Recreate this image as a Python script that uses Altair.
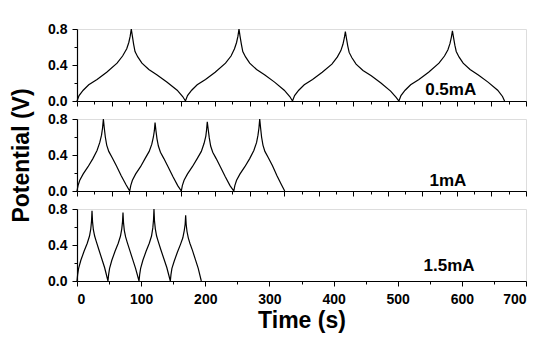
import altair as alt
import pandas as pd

# ---- data ----
# 0.5 mA (top panel, its own time axis 0-650)
t_05 = [0, 3, 9, 17, 29, 43, 58, 66, 72, 75, 77, 78.6, 80, 82, 84, 88, 94, 104, 116, 130, 145, 153, 157,
        160, 166, 174, 186, 200, 215, 223, 228, 231, 233, 234.5, 236, 238, 240, 244, 250, 260, 272, 286, 300, 308, 312,
        315, 321, 329, 341, 355, 369, 377, 382, 385, 387, 388.5, 390, 392, 394, 398, 404, 414, 426, 440, 454, 462, 466,
        469, 475, 483, 495, 509, 524, 532, 537, 540, 542, 543.5, 545, 547, 549, 553, 559, 569, 581, 595, 609, 616, 619]
v_05 = [0, .06, .12, .18, .24, .32, .42, .50, .58, .65, .72, .80, .73, .63, .55, .49, .42, .35, .29, .21, .12, .05, 0,
        .06, .12, .18, .24, .32, .42, .50, .58, .65, .72, .80, .72, .63, .55, .49, .42, .35, .29, .21, .12, .05, 0,
        .06, .12, .18, .24, .32, .41, .49, .56, .63, .70, .77, .70, .61, .54, .48, .41, .34, .28, .20, .11, .04, 0,
        .06, .12, .18, .24, .32, .42, .50, .57, .64, .71, .78, .71, .62, .55, .49, .42, .35, .29, .21, .12, .05, 0]

# 1 mA (middle panel, time axis 0-650)
t_10 = [0, 1.5, 4, 9, 16, 23, 29, 33, 35.5, 37, 38.2, 39.5, 41, 43, 46, 51, 57, 64, 71, 76.3,
        77.8, 80.2, 85, 92, 98.5, 104.5, 108.3, 110.6, 112, 113, 114.3, 115.8, 117.8, 120.8, 125.8, 131.8, 138.8, 145.8, 151,
        152.5, 155, 160, 167, 174, 180, 184, 186.5, 187.6, 188.6, 190, 191.5, 193.5, 196.5, 201.5, 207.5, 214.5, 221.5, 227,
        228.5, 231, 236, 243, 250, 256, 260, 262, 263.4, 264.5, 265.8, 267.2, 269.2, 272, 277, 283, 289.5, 296, 300.7]
v_10 = [0, .06, .12, .19, .27, .36, .45, .54, .62, .70, .80, .70, .60, .51, .44, .37, .28, .17, .07, 0,
        .06, .12, .19, .27, .36, .44, .52, .60, .67, .76, .67, .58, .50, .43, .36, .27, .16, .06, 0,
        .06, .12, .19, .27, .36, .44, .53, .61, .68, .77, .68, .59, .50, .43, .36, .27, .16, .06, 0,
        .06, .12, .19, .27, .36, .45, .54, .62, .70, .80, .70, .60, .51, .44, .37, .28, .17, .07, 0]

# 1.5 mA (bottom panel, time axis 0-700)
t_15 = [0, 1, 2.5, 6, 11, 16, 19.5, 21.5, 22.7, 23.4, 24.2, 25.5, 27.5, 30, 34, 38.5, 43, 48.3,
        49.3, 50.8, 54.3, 59.3, 64.3, 67.8, 69.8, 71, 71.7, 72.5, 73.8, 75.8, 78.3, 82.3, 86.8, 91.3, 96.7,
        97.7, 99.2, 102.7, 107.7, 112.7, 116.2, 118.2, 119.3, 120, 120.8, 122.1, 124.1, 126.6, 130.6, 135.3, 140, 145.5,
        146.5, 148, 151.5, 156.5, 161.5, 165, 167.2, 168.6, 169.4, 170.2, 171.5, 173.5, 176, 180, 184.5, 189, 193.8]
v_15 = [0, .07, .14, .23, .33, .42, .50, .58, .67, .78, .66, .57, .50, .44, .35, .25, .15, 0,
        .07, .14, .23, .33, .42, .50, .58, .66, .76, .65, .56, .49, .43, .34, .24, .14, 0,
        .07, .14, .23, .33, .42, .50, .59, .68, .80, .67, .58, .50, .44, .35, .25, .15, 0,
        .07, .14, .22, .32, .41, .48, .56, .63, .73, .63, .55, .48, .42, .34, .24, .14, 0]

labels = ["0.5mA", "1mA", "1.5mA"]
label_t = [541, 537, 580]
label_v = [0.07, 0.056, 0.114]

y_ticks = [0, 0.2, 0.4, 0.6, 0.8]

FONT = "Liberation Sans"
W, H = 449, 72

def panel(t, v, label, lt, lv, xmax, xstep, bottom, ytitle):
    df = pd.DataFrame({"t": t, "v": v})
    ldf = pd.DataFrame({"t": [lt], "v": [lv], "label": [label]})
    minor = xstep // 2
    xvals = list(range(0, xmax + 1, minor))
    if bottom:
        xaxis = alt.Axis(values=xvals, title="Time (s)", grid=False,
                         labelExpr=f"datum.value % {xstep} === 0 ? datum.label : ''",
                         tickSize={"condition": {"test": f"datum.value % {xstep} === 0", "value": 5}, "value": 3},
                         labelFont=FONT, labelFontWeight="bold", labelFontSize=14, labelColor="black",
                         labelPadding=6, labelOverlap=False,
                         titleFont=FONT, titleFontWeight="bold", titleFontSize=23, titleColor="black",
                         titlePadding=3, domainColor="black", tickColor="black", domainWidth=1.2)
    else:
        xaxis = alt.Axis(values=xvals, title=None, grid=False, labels=False,
                         tickSize={"condition": {"test": f"datum.value % {xstep} === 0", "value": 5}, "value": 3},
                         domainColor="black", tickColor="black", domainWidth=1.2)
    yaxis = alt.Axis(values=y_ticks, title=ytitle if ytitle else None, grid=False,
                     format=".1f",
                     labelExpr="(abs(datum.value - 0.2) < 0.01 || abs(datum.value - 0.6) < 0.01) ? '' : datum.label",
                     tickSize={"condition": {"test": "abs(datum.value - 0.2) < 0.01 || abs(datum.value - 0.6) < 0.01",
                                             "value": 3}, "value": 5},
                     labelFont=FONT, labelFontWeight="bold", labelFontSize=14, labelColor="black",
                     labelPadding=5, labelOverlap=False, labelFlush=False,
                     titleFont=FONT, titleFontWeight="bold", titleFontSize=23, titleColor="black",
                     titlePadding=14, domainColor="black", tickColor="black", domainWidth=1.2)
    x = alt.X("t:Q", scale=alt.Scale(domain=[0, xmax], nice=False, zero=False), axis=xaxis)
    y = alt.Y("v:Q", scale=alt.Scale(domain=[0, 0.8], nice=False), axis=yaxis)
    line = alt.Chart(df).mark_line(color="black", strokeWidth=1.2, clip=False).encode(x=x, y=y)
    txt = alt.Chart(ldf).mark_text(font=FONT, fontWeight="bold", fontSize=17, color="black",
                                   align="center", baseline="alphabetic").encode(
        x=x, y=y, text="label:N")
    return alt.layer(line, txt).properties(width=W, height=H)

p1 = panel(t_05, v_05, labels[0], label_t[0], label_v[0], 650, 50, False, None)
p2 = panel(t_10, v_10, labels[1], label_t[1], label_v[1], 650, 50, False, "Potential (V)")
p3 = panel(t_15, v_15, labels[2], label_t[2], label_v[2], 700, 100, True, None)

chart = alt.vconcat(p1, p2, p3, spacing=18, bounds="flush").properties(
    padding={"left": 2, "top": 13, "right": 5, "bottom": 5}
).configure_view(stroke=None).configure(background="white")

chart.save("out.html", embed_options={"renderer": "svg", "actions": False})
